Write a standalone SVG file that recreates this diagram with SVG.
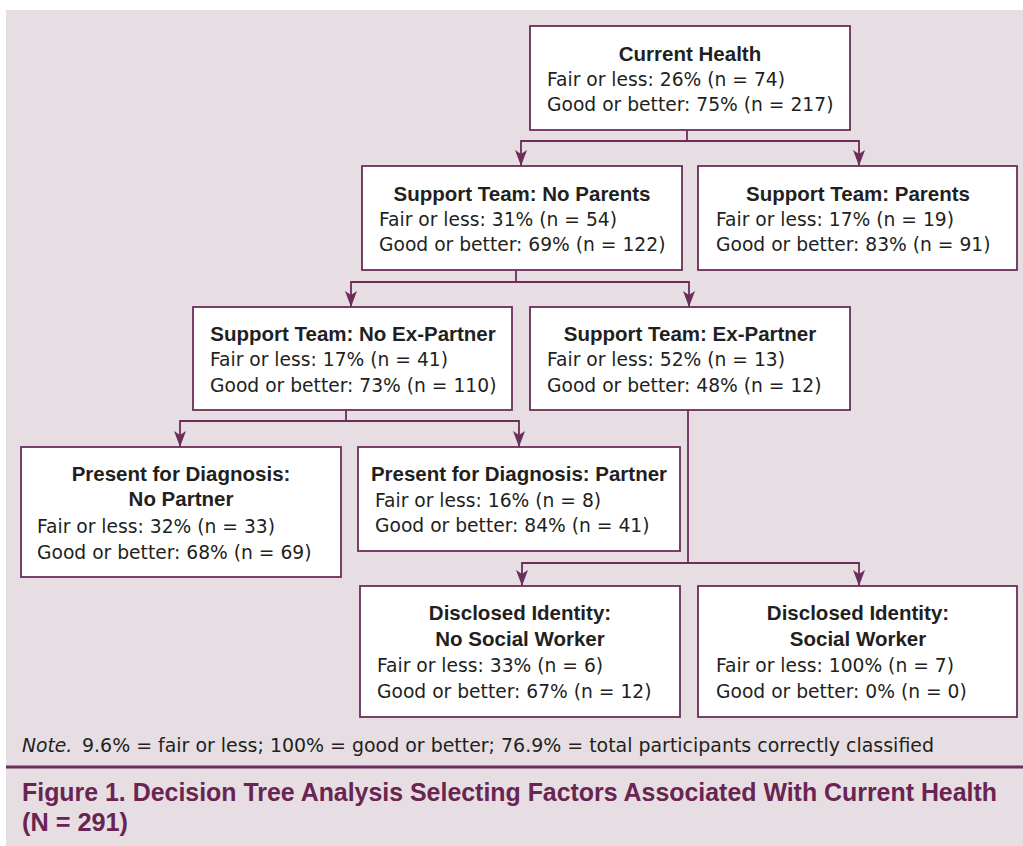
<svg xmlns="http://www.w3.org/2000/svg" width="1023" height="846" viewBox="0 0 1023 846">
  <defs>
    <marker id="arrow" viewBox="0 0 16 12" refX="16" refY="6" markerWidth="16" markerHeight="12" markerUnits="userSpaceOnUse" orient="auto">
      <path d="M0,0 L16,6 L0,12 L4,6 Z" fill="#6b2d5b"/>
    </marker>
    <style>
      .box { fill: #ffffff; stroke: #6b2d5b; stroke-width: 1.8; }
      .title { font-family: "Liberation Sans", Arial, sans-serif; font-weight: bold; font-size: 20.5px; fill: #231f20; text-anchor: middle; }
      .body { font-family: "DejaVu Sans", "Liberation Sans", sans-serif; font-size: 18.7px; fill: #231f20; }
      .conn { fill: none; stroke: #6b2d5b; stroke-width: 1.8; }
      .caption { font-family: "Liberation Sans", Arial, sans-serif; font-weight: bold; font-size: 25px; fill: #6a2452; }
    </style>
  </defs>

  <rect x="6" y="10" width="1017" height="836" fill="#e6dee3"/>

  <g id="connectors">
    <path class="conn" d="M687,130 V141"/>
    <path class="conn" d="M687,141 H521 V166" marker-end="url(#arrow)"/>
    <path class="conn" d="M687,141 H859 V166" marker-end="url(#arrow)"/>
    <path class="conn" d="M516,270 V282"/>
    <path class="conn" d="M516,282 H351 V307" marker-end="url(#arrow)"/>
    <path class="conn" d="M516,282 H689 V307" marker-end="url(#arrow)"/>
    <path class="conn" d="M346,410 V421"/>
    <path class="conn" d="M346,421 H180 V447" marker-end="url(#arrow)"/>
    <path class="conn" d="M346,421 H519 V447" marker-end="url(#arrow)"/>
    <path class="conn" d="M688,410 V563"/>
    <path class="conn" d="M688,563 H522 V586" marker-end="url(#arrow)"/>
    <path class="conn" d="M688,563 H859 V586" marker-end="url(#arrow)"/>
  </g>

  <g id="node-current-health">
    <rect class="box" x="530" y="26" width="320" height="104"/>
    <text class="title" x="690" y="61">Current Health</text>
    <text class="body" x="547" y="86">Fair or less: 26% (n = 74)</text>
    <text class="body" x="547" y="111">Good or better: 75% (n = 217)</text>
  </g>

  <g id="node-no-parents">
    <rect class="box" x="362" y="166" width="320" height="104"/>
    <text class="title" x="522" y="201">Support Team: No Parents</text>
    <text class="body" x="379" y="226">Fair or less: 31% (n = 54)</text>
    <text class="body" x="379" y="251">Good or better: 69% (n = 122)</text>
  </g>

  <g id="node-parents">
    <rect class="box" x="698" y="166" width="319" height="104"/>
    <text class="title" x="858" y="201">Support Team: Parents</text>
    <text class="body" x="716" y="226">Fair or less: 17% (n = 19)</text>
    <text class="body" x="716" y="251">Good or better: 83% (n = 91)</text>
  </g>

  <g id="node-no-ex-partner">
    <rect class="box" x="193" y="307" width="319" height="103"/>
    <text class="title" x="353" y="341">Support Team: No Ex-Partner</text>
    <text class="body" x="210" y="366">Fair or less: 17% (n = 41)</text>
    <text class="body" x="210" y="392">Good or better: 73% (n = 110)</text>
  </g>

  <g id="node-ex-partner">
    <rect class="box" x="530" y="307" width="320" height="103"/>
    <text class="title" x="690" y="341">Support Team: Ex-Partner</text>
    <text class="body" x="547" y="366">Fair or less: 52% (n = 13)</text>
    <text class="body" x="547" y="392">Good or better: 48% (n = 12)</text>
  </g>

  <g id="node-present-no-partner">
    <rect class="box" x="21" y="447" width="320" height="130"/>
    <text class="title" x="181" y="481">Present for Diagnosis:</text>
    <text class="title" x="181" y="506">No Partner</text>
    <text class="body" x="37" y="533">Fair or less: 32% (n = 33)</text>
    <text class="body" x="37" y="559">Good or better: 68% (n = 69)</text>
  </g>

  <g id="node-present-partner">
    <rect class="box" x="358" y="447" width="322" height="104"/>
    <text class="title" x="519" y="481">Present for Diagnosis: Partner</text>
    <text class="body" x="375" y="507">Fair or less: 16% (n = 8)</text>
    <text class="body" x="375" y="532">Good or better: 84% (n = 41)</text>
  </g>

  <g id="node-disclosed-no-social-worker">
    <rect class="box" x="360" y="586" width="320" height="131"/>
    <text class="title" x="520" y="620">Disclosed Identity:</text>
    <text class="title" x="520" y="646">No Social Worker</text>
    <text class="body" x="377" y="672">Fair or less: 33% (n = 6)</text>
    <text class="body" x="377" y="698">Good or better: 67% (n = 12)</text>
  </g>

  <g id="node-disclosed-social-worker">
    <rect class="box" x="698" y="586" width="319" height="131"/>
    <text class="title" x="858" y="620">Disclosed Identity:</text>
    <text class="title" x="858" y="646">Social Worker</text>
    <text class="body" x="716" y="672">Fair or less: 100% (n = 7)</text>
    <text class="body" x="716" y="698">Good or better: 0% (n = 0)</text>
  </g>

  <g id="note">
    <text class="body" x="22" y="752" font-style="italic">Note.</text>
    <text class="body" x="82" y="752" textLength="852" lengthAdjust="spacingAndGlyphs">9.6% = fair or less; 100% = good or better; 76.9% = total participants correctly classified</text>
  </g>

  <line x1="6" y1="767" x2="1023" y2="767" stroke="#6b2d5b" stroke-width="3"/>

  <g id="caption">
    <text class="caption" x="22" y="801" textLength="975" lengthAdjust="spacingAndGlyphs">Figure 1. Decision Tree Analysis Selecting Factors Associated With Current Health</text>
    <text class="caption" x="22" y="831" textLength="106" lengthAdjust="spacingAndGlyphs">(N = 291)</text>
  </g>
</svg>
